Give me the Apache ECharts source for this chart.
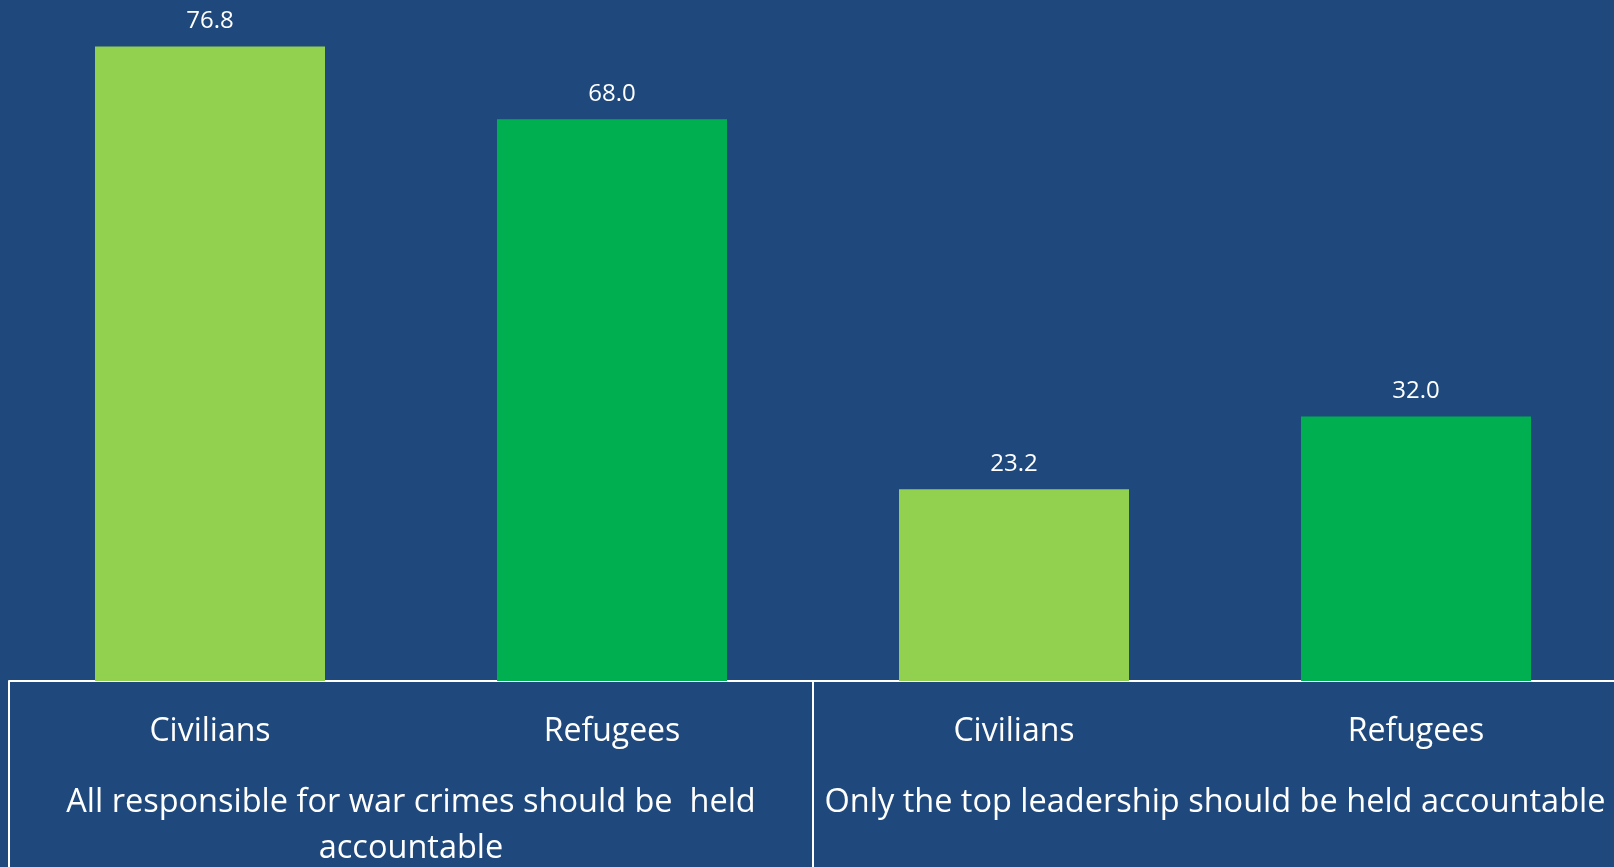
<!DOCTYPE html>
<html>
<head>
<meta charset="utf-8">
<script src="https://cdn.jsdelivr.net/npm/echarts@6/dist/echarts.min.js"></script>
<style>
html,body{margin:0;padding:0;background:#1F497D;}
#chart{width:1614px;height:867px;}
</style>
</head>
<body>
<div id="chart"></div>
<script>
const categories = ['Civilians', 'Refugees', 'Civilians', 'Refugees'];
const groups = ['All responsible for war crimes should be  held\naccountable', 'Only the top leadership should be held accountable'];
const values = [76.8, 68.0, 23.2, 32.0];

const FONT = '"Open Sans", sans-serif';
const chart = echarts.init(document.getElementById('chart'));
chart.setOption({
  backgroundColor: '#1F497D',
  animation: false,
  grid: { left: 9, top: 20, width: 1608, height: 661, containLabel: false, outerBoundsMode: 'none' },
  xAxis: [
    {
      type: 'category',
      data: categories,
      axisLine: { show: true, lineStyle: { color: '#FFFFFF', width: 2 } },
      axisTick: { show: false },
      axisLabel: { color: '#FFFFFF', fontFamily: FONT, fontSize: 32, margin: 35, interval: 0 }
    },
    {
      type: 'category',
      position: 'bottom',
      data: groups,
      axisLine: { show: false },
      axisTick: { show: true, length: 190, lineStyle: { color: '#FFFFFF', width: 2 } },
      axisLabel: { color: '#FFFFFF', fontFamily: FONT, fontSize: 32.5, lineHeight: 46, margin: 99, interval: 0, align: 'center' }
    }
  ],
  yAxis: { type: 'value', min: 0, max: 80, show: false, splitLine: { show: false } },
  series: [
    {
      type: 'bar',
      xAxisIndex: 0,
      data: values,
      barWidth: 230,
      itemStyle: {
        color: function (p) { return p.name === 'Civilians' ? '#92D050' : '#00B050'; }
      },
      label: {
        show: true,
        position: 'top',
        distance: 13,
        color: '#FFFFFF',
        fontFamily: FONT,
        fontSize: 24,
        formatter: function (p) { return p.value.toFixed(1); }
      }
    }
  ]
});
</script>
</body>
</html>
